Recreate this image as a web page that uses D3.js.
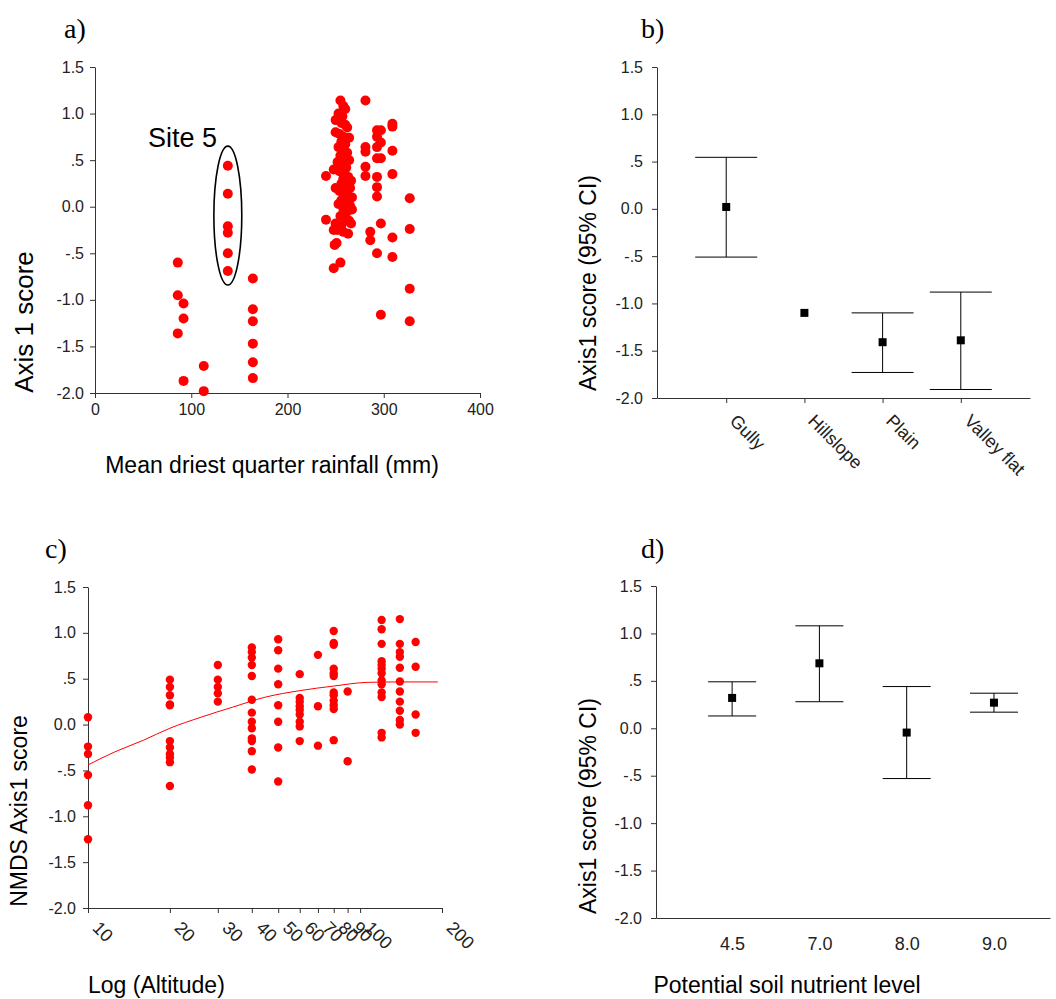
<!DOCTYPE html>
<html>
<head>
<meta charset="utf-8">
<script src="https://cdn.jsdelivr.net/npm/d3@7"></script>
<style>
  body { margin: 0; background: #fff; }
  svg { display: block; }
</style>
</head>
<body>
<svg id="chart" width="1056" height="999"></svg>
<script>
// ---------- shared tick labels ----------
const yTickValues = [-2, -1.5, -1, -0.5, 0, 0.5, 1, 1.5];
const yTickLabels = ["-2.0", "-1.5", "-1.0", "-.5", "0.0", ".5", "1.0", "1.5"];

// ---------- panel a: rainfall (mm) vs Axis 1 score ----------
const rainTicks = [0, 100, 200, 300, 400];
const rainA = [86, 86, 86, 92, 92, 92, 113, 113,
  138, 138, 138, 138, 138, 138,
  164, 164, 164, 164, 164, 164,
  240, 240, 248, 249, 248, 251, 255,
  255, 258, 260, 253, 257, 250, 256, 260, 262, 250, 254, 258, 264, 256, 260, 253, 258, 262,
  255, 260, 264, 252, 257, 261, 248, 254, 259, 263, 266, 256, 260, 265, 250, 254, 259, 263,
  267, 256, 261, 265, 253, 258, 262, 267, 255, 260, 264, 250, 256, 266, 252, 258, 263, 262, 258,
  281, 281, 281, 281, 281, 286, 286,
  293, 293, 293, 293, 293, 293, 293, 293,
  297, 297, 297, 297, 297,
  309, 309, 309, 309, 309, 309,
  327, 327, 327, 327];
const scoreA = [-0.60, -0.95, -1.36, -1.04, -1.20, -1.87, -1.71, -1.98,
  0.44, 0.14, -0.21, -0.28, -0.50, -0.69,
  -0.77, -1.10, -1.23, -1.47, -1.67, -1.84,
  0.33, -0.14, -0.25, -0.41, -0.66, -0.39, -0.60,
  1.14, 1.08, 1.05, 1.00, 0.97, 0.93, 0.90, 0.88, 0.85, 0.80, 0.78, 0.75, 0.74, 0.70, 0.67, 0.64, 0.62, 0.58,
  0.55, 0.52, 0.50, 0.48, 0.45, 0.42, 0.40, 0.38, 0.35, 0.32, 0.28, 0.25, 0.22, 0.20, 0.20, 0.17, 0.14, 0.12,
  0.10, 0.07, 0.04, 0.01, 0.03, -0.02, -0.05, -0.03, -0.10, -0.12, -0.15, -0.18, -0.20, -0.18, -0.25, -0.27, -0.29, 0.25, 0.30,
  1.14, 0.64, 0.59, 0.43, 0.33, -0.27, -0.36,
  0.82, 0.75, 0.64, 0.52, 0.32, 0.21, 0.11, -0.50,
  0.82, 0.69, 0.52, -0.18, -1.16,
  0.89, 0.86, 0.60, 0.35, -0.33, -0.54,
  0.09, -0.24, -0.88, -1.23];
const site5Rain = [123.5, 152.5];   // ellipse extent (mm)
const site5Score = [0.65, -0.84];   // ellipse extent (score)
const site5Label = "Site 5";

// ---------- panel b: landform ----------
const landforms = ["Gully", "Hillslope", "Plain", "Valley flat"];
const landMean = [0.02, -1.10, -1.41, -1.39];
const landHi = [0.545, null, -1.10, -0.88];
const landLo = [-0.51, null, -1.73, -1.91];

// ---------- panel c: altitude ----------
const altTicks = [10, 20, 30, 40, 50, 60, 70, 80, 90, 100, 200];
const altC = [10, 10, 10, 10, 10, 10,
  20, 20, 20, 20, 20, 20, 20, 20, 20, 20, 20,
  30, 30, 30, 30, 30,
  40, 40, 40, 40, 40, 40, 40, 40, 40, 40, 40, 40, 40,
  50, 50, 50, 50, 50, 50, 50, 50,
  60, 60, 60, 60, 60, 60, 60, 60, 60,
  70, 70, 70,
  80, 80, 80, 80, 80, 80, 80, 80, 80, 80, 80, 80,
  90, 90,
  120, 120, 120, 120, 120, 120, 120, 120, 120, 120, 120, 120, 120,
  140, 140, 140, 140, 140, 140, 140, 140, 140, 140, 140,
  160, 160, 160, 160];
const scoreC = [0.08, -0.24, -0.32, -0.55, -0.88, -1.25,
  0.49, 0.41, 0.32, 0.22, 0.21, -0.18, -0.25, -0.32, -0.36, -0.41, -0.67,
  0.65, 0.49, 0.41, 0.34, 0.25,
  0.84, 0.79, 0.73, 0.65, 0.53, 0.27, 0.13, 0.03, -0.04, -0.15, -0.18, -0.29, -0.49,
  0.93, 0.81, 0.61, 0.44, 0.21, 0.03, -0.25, -0.62,
  0.55, 0.29, 0.25, 0.20, 0.16, 0.11, 0.03, -0.02, -0.18,
  0.76, 0.20, -0.23,
  1.02, 0.89, 0.87, 0.61, 0.56, 0.53, 0.35, 0.32, 0.26, 0.21, 0.17, -0.17,
  0.36, -0.40,
  1.14, 1.04, 0.88, 0.69, 0.65, 0.61, 0.56, 0.48, 0.44, 0.35, 0.30, -0.09, -0.14,
  1.15, 0.88, 0.79, 0.74, 0.62, 0.47, 0.36, 0.25, 0.15, 0.05, 0.00,
  0.90, 0.63, 0.11, -0.09];
const fitAlt = [10, 12.5, 16, 20, 26, 34, 45, 60, 80, 106, 140, 193];
const fitScore = [-0.44, -0.30, -0.17, -0.04, 0.08, 0.19, 0.30, 0.37, 0.42, 0.46, 0.465, 0.465];

// ---------- panel d: soil nutrient ----------
const nutrients = ["4.5", "7.0", "8.0", "9.0"];
const nutMean = [0.32, 0.685, -0.045, 0.27];
const nutHi = [0.49, 1.08, 0.44, 0.37];
const nutLo = [0.13, 0.28, -0.53, 0.17];

// =========================================================
const SANS = "'Liberation Sans', Arial, sans-serif";
const SERIF = "'Liberation Serif', 'Times New Roman', serif";
const svg = d3.select("#chart").style("font-family", SANS);
const AX = "#333";
const RED = "#ff0000";

function styleAxis(g, fs) {
  g.attr("font-family", null).attr("font-size", null);
  g.selectAll("path.domain").attr("stroke", AX).attr("stroke-width", 1);
  g.selectAll(".tick line").attr("stroke", AX);
  g.selectAll("text").style("font-size", (fs || 16) + "px").attr("fill", "#222")
    .style("font-family", SANS);
}
function yAxis(y, x0, pad) {
  const g = svg.append("g").attr("transform", `translate(${x0},0)`)
    .call(d3.axisLeft(y).tickValues(yTickValues)
      .tickFormat((d, i) => yTickLabels[i]).tickSize(5).tickSizeOuter(0).tickPadding(pad));
  styleAxis(g);
  return g;
}
function panelLabel(txt, x, y) {
  svg.append("text").attr("x", x).attr("y", y).text(txt)
    .style("font-family", SERIF).style("font-size", "28px").attr("fill", "#000");
}
function title(txt, x, y, rot, anchor, fs) {
  const t = svg.append("text").text(txt).style("font-size", (fs || 23) + "px").attr("fill", "#000")
    .style("font-family", SANS).attr("text-anchor", anchor || "middle");
  if (rot) t.attr("transform", `translate(${x},${y}) rotate(-90)`);
  else t.attr("x", x).attr("y", y);
}

// ---------------- panel a ----------------
{
  const x = d3.scaleLinear().domain([0, 400]).range([95, 480]);
  const y = d3.scaleLinear().domain([-2, 1.5]).range([393, 67]);
  yAxis(y, 95, 6);
  const gx = svg.append("g").attr("transform", "translate(0,393)")
    .call(d3.axisBottom(x).tickValues(rainTicks).tickFormat(d3.format("d")).tickSize(5).tickSizeOuter(0).tickPadding(6));
  styleAxis(gx);
  svg.append("g").selectAll("circle").data(rainA).join("circle")
    .attr("cx", d => x(d)).attr("cy", (d, i) => y(scoreA[i])).attr("r", 5).attr("fill", RED);
  const cx = x((site5Rain[0] + site5Rain[1]) / 2), cy = y((site5Score[0] + site5Score[1]) / 2);
  svg.append("ellipse").attr("cx", cx).attr("cy", cy)
    .attr("rx", (x(site5Rain[1]) - x(site5Rain[0])) / 2)
    .attr("ry", (y(site5Score[1]) - y(site5Score[0])) / 2)
    .attr("fill", "none").attr("stroke", "#000").attr("stroke-width", 1.6);
  svg.append("text").attr("x", x(55)).attr("y", y(0.64)).text(site5Label)
    .style("font-size", "27px").style("font-family", SANS).attr("fill", "#000");
  panelLabel("a)", 64, 38);
  title("Axis 1 score", 33, 322, true, "middle", 26);
  title("Mean driest quarter rainfall (mm)", 272, 473);
}

// ---------------- panel b ----------------
{
  const x = d3.scalePoint().domain(landforms).range([657, 1030]).padding(0.885);
  const y = d3.scaleLinear().domain([-2, 1.5]).range([398, 67]);
  yAxis(y, 657, 9);
  const gx = svg.append("g").attr("transform", "translate(0,398)")
    .call(d3.axisBottom(x).tickSize(5).tickSizeOuter(0));
  styleAxis(gx, 18);
  gx.selectAll(".tick text").attr("text-anchor", "start").attr("x", 0).attr("y", 0).attr("dy", "0")
    .attr("transform", "translate(2,24) rotate(45)");
  const g = svg.append("g");
  landforms.forEach((c, i) => {
    if (landHi[i] != null) {
      g.append("line").attr("x1", x(c)).attr("x2", x(c)).attr("y1", y(landHi[i])).attr("y2", y(landLo[i]))
        .attr("stroke", "#000");
      [landHi[i], landLo[i]].forEach(v => g.append("line").attr("x1", x(c) - 31).attr("x2", x(c) + 31)
        .attr("y1", y(v)).attr("y2", y(v)).attr("stroke", "#000"));
    }
    g.append("rect").attr("x", x(c) - 4).attr("y", y(landMean[i]) - 4).attr("width", 8).attr("height", 8).attr("fill", "#000");
  });
  panelLabel("b)", 641, 38);
  title("Axis1 score (95% CI)", 596, 283, true);
}

// ---------------- panel c ----------------
{
  const x = d3.scaleLog().domain([10, 200]).range([88, 442]);
  const y = d3.scaleLinear().domain([-2, 1.5]).range([908, 587]);
  yAxis(y, 88, 7);
  const gx = svg.append("g").attr("transform", "translate(0,908)")
    .call(d3.axisBottom(x).tickValues(altTicks).tickFormat(d3.format("d")).tickSize(5).tickSizeOuter(0));
  styleAxis(gx, 18);
  gx.selectAll(".tick text").attr("text-anchor", "start").attr("x", 0).attr("y", 0).attr("dy", "0")
    .attr("transform", "translate(3,21) rotate(45)");
  svg.append("g").selectAll("circle").data(altC).join("circle")
    .attr("cx", d => x(d)).attr("cy", (d, i) => y(scoreC[i])).attr("r", 4.2).attr("fill", RED);
  const line = d3.line().x(d => x(d)).y((d, i) => y(fitScore[i])).curve(d3.curveMonotoneX);
  svg.append("path").datum(fitAlt).attr("d", line).attr("fill", "none").attr("stroke", RED).attr("stroke-width", 1);
  panelLabel("c)", 45, 558);
  title("NMDS Axis1 score", 27, 811, true);
  title("Log (Altitude)", 88, 993, false, "start");
}

// ---------------- panel d ----------------
{
  const x = d3.scalePoint().domain(nutrients).range([656, 1050]).padding(0.757).align(0.576);
  const y = d3.scaleLinear().domain([-2, 1.5]).range([918, 586]);
  yAxis(y, 656, 9);
  const gx = svg.append("g").attr("transform", "translate(0,918)")
    .call(d3.axisBottom(x).tickSize(0).tickSizeOuter(0));
  styleAxis(gx, 18);
  gx.selectAll(".tick text").attr("y", 32).attr("dy", "0");
  const g = svg.append("g");
  nutrients.forEach((c, i) => {
    g.append("line").attr("x1", x(c)).attr("x2", x(c)).attr("y1", y(nutHi[i])).attr("y2", y(nutLo[i]))
      .attr("stroke", "#000");
    [nutHi[i], nutLo[i]].forEach(v => g.append("line").attr("x1", x(c) - 24).attr("x2", x(c) + 24)
      .attr("y1", y(v)).attr("y2", y(v)).attr("stroke", "#000"));
    g.append("rect").attr("x", x(c) - 4).attr("y", y(nutMean[i]) - 4).attr("width", 8).attr("height", 8).attr("fill", "#000");
  });
  panelLabel("d)", 641, 558);
  title("Axis1 score (95% CI)", 596, 806, true);
  title("Potential soil nutrient level", 787, 993);
}
</script>
</body>
</html>
